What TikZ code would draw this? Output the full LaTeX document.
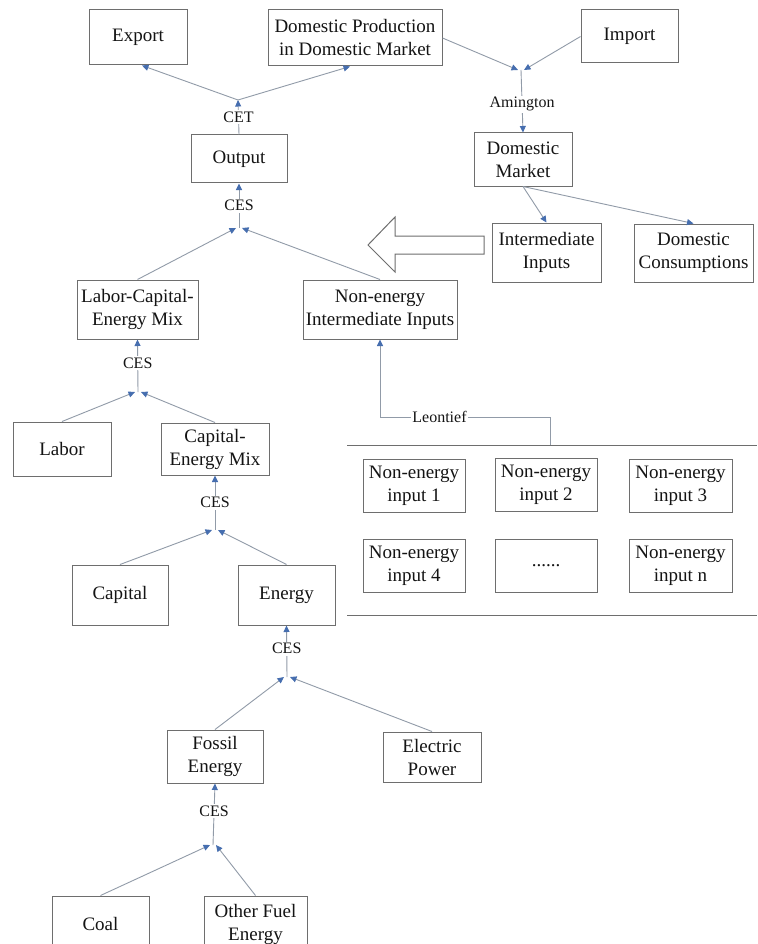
\documentclass[tikz,border=0pt]{standalone}
\usepackage{fontspec}
\setmainfont{Liberation Serif}
\usetikzlibrary{arrows.meta}
\definecolor{boxc}{RGB}{110,110,110}
\definecolor{linec}{RGB}{145,155,168}
\definecolor{tipc}{RGB}{70,110,175}
\definecolor{txtc}{RGB}{20,20,20}
\begin{document}
\begin{tikzpicture}[x=1pt,y=-1pt,
  box/.style={draw=boxc,line width=1pt,fill=white,align=center,inner sep=0pt,
    font=\fontsize{19}{23}\selectfont,text=txtc},
  conn/.style={draw=linec,line width=0.9pt},
  arr/.style={conn,-{Triangle[length=6.5pt,width=6pt,color=tipc]}},
  lbl/.style={fill=white,inner sep=1.5pt,font=\fontsize{16}{18}\selectfont,text=txtc},
  rule/.style={draw=boxc,line width=0.9pt}]
\useasboundingbox (0,0) rectangle (757,944);
\clip (0,0) rectangle (757,944);
\fill[white] (0,0) rectangle (757,944);

% boxes
\node[box,minimum width=98pt,minimum height=55pt] (export) at (138,37.5) {Export};
\node[box,minimum width=174pt,minimum height=56pt] (dp) at (355,38) {Domestic Production\\in Domestic Market};
\node[box,minimum width=97pt,minimum height=53pt] (import) at (629.5,36.5) {Import};
\node[box,minimum width=96pt,minimum height=48pt] (output) at (239,159) {Output};
\node[box,minimum width=98pt,minimum height=53pt] (dm) at (523,159.5) {Domestic\\Market};
\node[box,minimum width=109pt,minimum height=59pt] (ii) at (546.5,252.5) {Intermediate\\Inputs};
\node[box,minimum width=119pt,minimum height=58pt] (dc) at (693.5,253) {Domestic\\Consumptions};
\node[box,minimum width=121pt,minimum height=59pt] (lcem) at (137.5,309.5) {Labor-Capital-\\Energy Mix};
\node[box,minimum width=154pt,minimum height=59pt] (neii) at (380,309.5) {Non-energy\\Intermediate Inputs};
\node[box,minimum width=98pt,minimum height=54pt] (labor) at (62,449) {Labor};
\node[box,minimum width=108pt,minimum height=52pt] (cem) at (215,449) {Capital-\\Energy Mix};
\node[box,minimum width=96pt,minimum height=60pt] (capital) at (120,595) {Capital};
\node[box,minimum width=97pt,minimum height=60pt] (energy) at (286.5,595) {Energy};
\node[box,minimum width=96pt,minimum height=53pt] (fe) at (215,756.5) {Fossil\\Energy};
\node[box,minimum width=98pt,minimum height=50pt] (ep) at (432,757) {Electric\\Power};
\node[box,minimum width=97pt,minimum height=56pt] (coal) at (100.5,924) {Coal};
\node[box,minimum width=103pt,minimum height=56pt] (ofe) at (255.5,924) {Other Fuel\\Energy};

\node[box,minimum width=102pt,minimum height=53pt] (ne1) at (414,485.5) {Non-energy\\input 1};
\node[box,minimum width=102pt,minimum height=53pt] (ne2) at (546,484.5) {Non-energy\\input 2};
\node[box,minimum width=103pt,minimum height=53pt] (ne3) at (680.5,485.5) {Non-energy\\input 3};
\node[box,minimum width=102pt,minimum height=53pt] (ne4) at (414,565.5) {Non-energy\\input 4};
\node[box,minimum width=102pt,minimum height=53pt] (nedots) at (546,565.5) {......};
\node[box,minimum width=103pt,minimum height=53pt] (nen) at (680.5,565.5) {Non-energy\\input n};

% big hollow arrow
\draw[draw=boxc,line width=1pt,fill=white] (368,245) -- (395,217) -- (395,236) -- (484,236)
  -- (484,254) -- (395,254) -- (395,272) -- cycle;

% CET
\coordinate (jcet) at (238,100);
\draw[arr] (output.north) -- node[lbl]{CET} (jcet);
\draw[arr] (jcet) -- ([xshift=4pt]export.south);
\draw[arr] (jcet) -- ([xshift=-5pt]dp.south);

% Amington
\coordinate (jam) at (521,70);
\draw[arr] (dp.east) -- ([xshift=-3pt]jam);
\draw[arr] (import.west) -- ([xshift=3pt]jam);
\draw[arr] (jam) -- node[lbl,pos=0.55]{Amington} (dm.north);
\draw[arr] (dm.south) -- (ii.north);
\draw[arr] (dm.south) -- (dc.north);

% CES 1
\coordinate (j1) at (239,228);
\draw[arr] (j1) -- node[lbl]{CES} (output.south);
\draw[arr] (lcem.north) -- ([xshift=-3pt]j1);
\draw[arr] (neii.north) -- ([xshift=3pt]j1);

% CES 2
\coordinate (j2) at (138,392);
\draw[arr] (j2) -- node[lbl,pos=0.55]{CES} (lcem.south);
\draw[arr] (labor.north) -- ([xshift=-3pt]j2);
\draw[arr] (cem.north) -- ([xshift=3pt]j2);

% CES 3
\coordinate (j3) at (215,530);
\draw[arr] (j3) -- node[lbl]{CES} (cem.south);
\draw[arr] (capital.north) -- ([xshift=-3pt]j3);
\draw[arr] (energy.north) -- ([xshift=3pt]j3);

% CES 4
\coordinate (j4) at (287,677);
\draw[arr] (j4) -- node[lbl,pos=0.55]{CES} (energy.south);
\draw[arr] (fe.north) -- ([xshift=-3pt]j4);
\draw[arr] (ep.north) -- ([xshift=3pt]j4);

% CES 5
\coordinate (j5) at (213,845);
\draw[arr] (j5) -- node[lbl,pos=0.55]{CES} (fe.south);
\draw[arr] (coal.north) -- ([xshift=-3pt]j5);
\draw[arr] (ofe.north) -- ([xshift=3pt]j5);

% Leontief
\coordinate (lt) at (550,445);
\coordinate (lc) at (550,417);
\coordinate (ll) at (380,417);
\draw[arr] (lt) -- (lc) -- node[lbl,pos=0.65]{Leontief} (ll) -- (neii.south);

% rules
\coordinate (h1a) at (347,445);
\coordinate (h1b) at (757,445);
\coordinate (h2a) at (347,615);
\coordinate (h2b) at (757,615);
\draw[rule] (h1a) -- (h1b);
\draw[rule] (h2a) -- (h2b);
\end{tikzpicture}
\end{document}
